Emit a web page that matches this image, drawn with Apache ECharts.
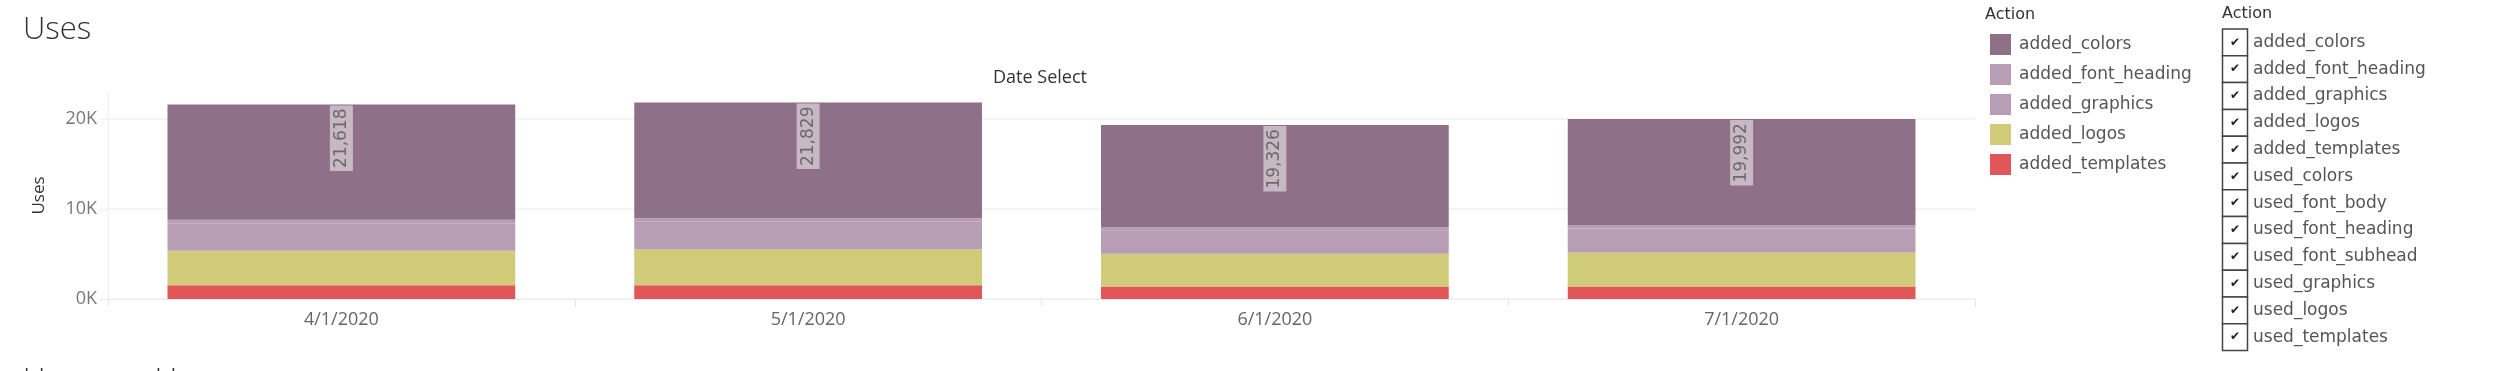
<!DOCTYPE html>
<html><head><meta charset="utf-8">
<script src="https://cdn.jsdelivr.net/npm/echarts@6/dist/echarts.min.js"></script>
<style>html,body{margin:0;padding:0;background:#fff}#c{width:2500px;height:371px}</style>
</head><body><div id="c"></div>
<script>
const categories = ['4/1/2020', '5/1/2020', '6/1/2020', '7/1/2020'];
const addedTemplates = [1520, 1520, 1400, 1400];
const addedLogos = [3840, 3990, 3630, 3780];
const addedGraphics = [3050, 3080, 2620, 2650];
const addedFontHeading = [390, 390, 340, 340];
const addedColors = [12818, 12849, 11336, 11822];
const legendNames = ['added_colors', 'added_font_heading', 'added_graphics', 'added_logos', 'added_templates'];
const filterActions = ['added_colors', 'added_font_heading', 'added_graphics', 'added_logos', 'added_templates',
  'used_colors', 'used_font_body', 'used_font_heading', 'used_font_subhead', 'used_graphics', 'used_logos', 'used_templates'];
const palette = {
  added_colors: '#8f7089', added_font_heading: '#b89eb4', added_graphics: '#b89eb4',
  added_logos: '#cfcb79', added_templates: '#e05659'
};

const stackSeries = [
  ['added_templates', addedTemplates],
  ['added_logos', addedLogos],
  ['added_graphics', addedGraphics],
  ['added_font_heading', addedFontHeading],
  ['added_colors', addedColors]
];
const totals = categories.map((_, i) => stackSeries.reduce((s, d) => s + d[1][i], 0));

const series = stackSeries.map(([name, data]) => {
  const s = {
    name, type: 'bar', stack: 'uses', data, barCategoryGap: '25.5%',
    itemStyle: { color: palette[name] }, emphasis: { disabled: true }
  };
  if (name === 'added_colors') {
    s.label = {
      show: true, position: 'insideTop', distance: 1, rotate: 90, align: 'right', verticalAlign: 'middle',
      formatter: p => totals[p.dataIndex].toLocaleString('en-US'),
      fontFamily: 'DejaVu Sans', fontSize: 17, color: '#6a6a6a',
      backgroundColor: 'rgba(255,255,255,0.5)', padding: [3, 3, 3, 3]
    };
  }
  return s;
});

const graphics = [
  { type: 'text', left: 23, top: 15, style: { text: 'Uses', fontFamily: 'Open Sans', fontWeight: 300, fontSize: 31, fill: '#333' } },
  { type: 'text', left: 23, top: 366, style: { text: 'Uses per User', fontFamily: 'Open Sans', fontWeight: 300, fontSize: 31, fill: '#333' } },
  { type: 'text', x: 1040, y: 78, style: { text: 'Date Select', fontFamily: 'Open Sans', fontWeight: 500, fontSize: 18, fill: '#333', align: 'center', verticalAlign: 'middle' } },
  { type: 'text', x: 1985, y: 15, style: { text: 'Action', fontFamily: 'DejaVu Sans', fontSize: 16, fill: '#333', verticalAlign: 'middle' } },
  { type: 'text', x: 2222, y: 14, style: { text: 'Action', fontFamily: 'DejaVu Sans', fontSize: 16, fill: '#333', verticalAlign: 'middle' } }
];
const rowH = 26.8, boxTop = 29;
filterActions.forEach((name, i) => {
  const y = boxTop + i * rowH;
  graphics.push({ type: 'rect', shape: { x: 2222.5, y: y, width: 25, height: rowH }, style: { fill: '#fff', stroke: '#444', lineWidth: 1.5 } });
  graphics.push({ type: 'text', x: 2235, y: y + rowH / 2, style: { text: '✔', fontSize: 12, fill: '#222', align: 'center', verticalAlign: 'middle', fontFamily: 'DejaVu Sans' } });
  graphics.push({ type: 'text', x: 2253, y: y + rowH / 2, style: { text: name, fontSize: 17, fill: '#555', verticalAlign: 'middle', fontFamily: 'DejaVu Sans' } });
});

const chart = echarts.init(document.getElementById('c'));
chart.setOption({
  animation: false,
  grid: { left: 108, right: 525, top: 92, bottom: 72, containLabel: false },
  legend: {
    data: legendNames, orient: 'vertical', left: 1985, top: 29, itemWidth: 21, itemHeight: 21, itemGap: 9,
    icon: 'rect', selectedMode: false,
    textStyle: { fontFamily: 'DejaVu Sans', fontSize: 17, color: '#555', padding: [0, 0, 0, 3] }
  },
  xAxis: {
    type: 'category', data: categories,
    axisLine: { show: true, lineStyle: { color: '#ececec', width: 1 } },
    axisTick: { show: true, length: 8, lineStyle: { color: '#e6e6e6' } },
    axisLabel: { fontFamily: 'Open Sans', fontSize: 18, color: '#666', margin: 12 }
  },
  yAxis: {
    type: 'value', min: 0, max: 23000, interval: 10000,
    name: 'Uses', nameLocation: 'middle', nameGap: 60,
    nameTextStyle: { fontFamily: 'Open Sans', fontWeight: 500, fontSize: 17, color: '#333' },
    axisLine: { show: true, lineStyle: { color: '#f0f0f0' } },
    axisTick: { show: true, length: 8, lineStyle: { color: '#eeeeee' } },
    axisLabel: { fontFamily: 'Open Sans', fontSize: 18, color: '#777', margin: 11, showMaxLabel: false, formatter: v => (v / 1000) + 'K' },
    splitLine: { show: true, showMaxLine: false, lineStyle: { color: '#f0f0f0', width: 1.5 } }
  },
  series,
  graphic: graphics
});
</script></body></html>
